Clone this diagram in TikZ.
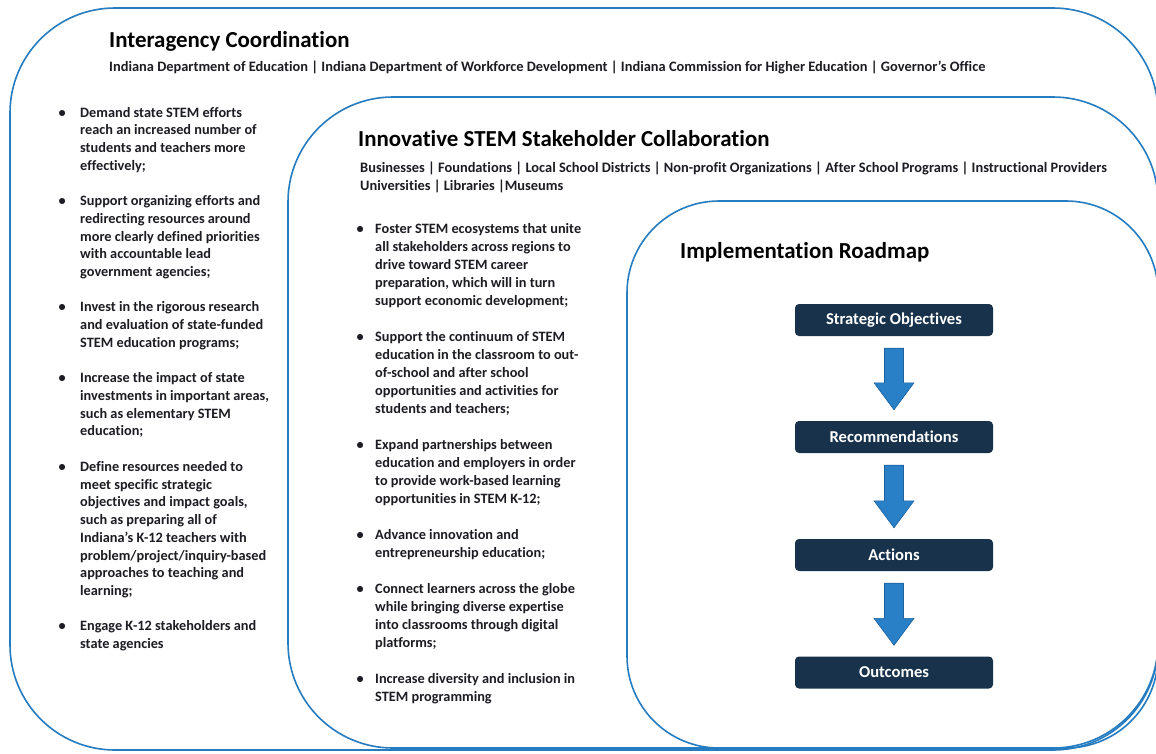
\documentclass[tikz,border=0pt]{standalone}
\usepackage{fontspec}
\setmainfont{Carlito}[Ligatures=NoCommon]
\usetikzlibrary{calc}

\definecolor{frameblue}{RGB}{38,124,192}
\definecolor{navy}{RGB}{24,50,76}
\definecolor{arrowblue}{RGB}{42,128,198}
\definecolor{arrowedge}{RGB}{28,98,160}
\definecolor{ink}{RGB}{28,28,34}

% bulleted paragraph: first baseline on the node's base, bullet hung to the left
\newcommand{\bulletpar}[2]{\begin{minipage}[t]{300pt}\leavevmode\llap{\makebox[0pt][c]{\textbullet}\hspace{#1}}#2\end{minipage}}
\newcommand{\linespar}[1]{\begin{minipage}[t]{800pt}#1\end{minipage}}

% block arrow between two stage boxes
\newcommand{\flowarrow}[2]{%
  \path[fill=arrowblue, draw=arrowedge, line width=0.6pt]
    let \p1=(#1.south), \p2=(#2.north) in
    (\x1-9.5pt,\y1-12pt) -- (\x1+9.5pt,\y1-12pt) -- (\x1+9.5pt,\y2+38pt)
    -- (\x1+20pt,\y2+38pt) -- (\x1,\y2+11pt) -- (\x1-20pt,\y2+38pt)
    -- (\x1-9.5pt,\y2+38pt) -- cycle;}

\tikzset{
  panel/.style={draw=frameblue, line width=1.6pt},
  heading/.style={anchor=base west, inner sep=0pt, text=black,
    font=\fontsize{22.9}{27}\selectfont\bfseries},
  members/.style={anchor=base west, inner sep=0pt, text=ink,
    font=\fontsize{14.4}{18}\selectfont\bfseries},
  leftitem/.style={anchor=base west, inner sep=0pt, text=ink,
    font=\fontsize{14.3}{17.72}\selectfont\bfseries},
  miditem/.style={anchor=base west, inner sep=0pt, text=ink,
    font=\fontsize{14.3}{18}\selectfont\bfseries},
  stage/.style={fill=navy, rounded corners=4pt, minimum width=198pt,
    minimum height=32pt, inner sep=0pt, text=white,
    font=\fontsize{16.6}{20}\selectfont\bfseries},
}

\begin{document}
\begin{tikzpicture}[x=1pt, y=-1pt]
\useasboundingbox (0,0) rectangle (1156,753);
\fill[white] (0,0) rectangle (1156,753);

% nested panels
\draw[panel, rounded corners=105pt] (10,8) rectangle (1158,750);
\draw[panel, rounded corners=105pt] (288,97) rectangle (1158,748);
\draw[panel, rounded corners=92pt] (627,201) rectangle (1158,748);

% outer panel
\node[heading] (coordTitle) at (109,47) {Interagency Coordination};
\node[members] (coordAgencies) at (109,71) {Indiana Department of Education | Indiana Department of Workforce Development | Indiana Commission for Higher Education | Governor’s Office};

\node[leftitem] (c1) at (80,117) {\bulletpar{18pt}{Demand state STEM efforts\\reach an increased number of\\students and teachers more\\effectively;}};
\node[leftitem] (c2) at (80,205.6) {\bulletpar{18pt}{Support organizing efforts and\\redirecting resources around\\more clearly defined priorities\\with accountable lead\\government agencies;}};
\node[leftitem] (c3) at (80,311.9) {\bulletpar{18pt}{Invest in the rigorous research\\and evaluation of state-funded\\STEM education programs;}};
\node[leftitem] (c4) at (80,382.8) {\bulletpar{18pt}{Increase the impact of state\\investments in important areas,\\such as elementary STEM\\education;}};
\node[leftitem] (c5) at (80,471.4) {\bulletpar{18pt}{Define resources needed to\\meet specific strategic\\objectives and impact goals,\\such as preparing all of\\Indiana’s K-12 teachers with\\problem/project/inquiry-based\\approaches to teaching and\\learning;}};
\node[leftitem] (c6) at (80,630.9) {\bulletpar{18pt}{Engage K-12 stakeholders and\\state agencies}};

% middle panel
\node[heading] (collabTitle) at (358,146) {Innovative STEM Stakeholder Collaboration};
\node[members] (collabMembers) at (360,172) {\linespar{Businesses | Foundations | Local School Districts | Non-profit Organizations | After School Programs | Instructional Providers\\Universities | Libraries |Museums}};

\node[miditem] (s1) at (375,233) {\bulletpar{15pt}{Foster STEM ecosystems that unite\\all stakeholders across regions to\\drive toward STEM career\\preparation, which will in turn\\support economic development;}};
\node[miditem] (s2) at (375,341) {\bulletpar{15pt}{Support the continuum of STEM\\education in the classroom to out-\\of-school and after school\\opportunities and activities for\\students and teachers;}};
\node[miditem] (s3) at (375,449) {\bulletpar{15pt}{Expand partnerships between\\education and employers in order\\to provide work-based learning\\opportunities in STEM K-12;}};
\node[miditem] (s4) at (375,539) {\bulletpar{15pt}{Advance innovation and\\entrepreneurship education;}};
\node[miditem] (s5) at (375,593) {\bulletpar{15pt}{Connect learners across the globe\\while bringing diverse expertise\\into classrooms through digital\\platforms;}};
\node[miditem] (s6) at (375,683) {\bulletpar{15pt}{Increase diversity and inclusion in\\STEM programming}};

% inner panel: roadmap
\node[heading] (roadTitle) at (680,258) {Implementation Roadmap};
\node[stage] (objectives) at (894,320) {Strategic Objectives};
\node[stage] (recommend) at (894,437) {Recommendations};
\node[stage] (actions) at (894,555) {Actions};
\node[stage] (outcomes) at (894,672.5) {Outcomes};

\flowarrow{objectives}{recommend}
\flowarrow{recommend}{actions}
\flowarrow{actions}{outcomes}
\end{tikzpicture}
\end{document}
